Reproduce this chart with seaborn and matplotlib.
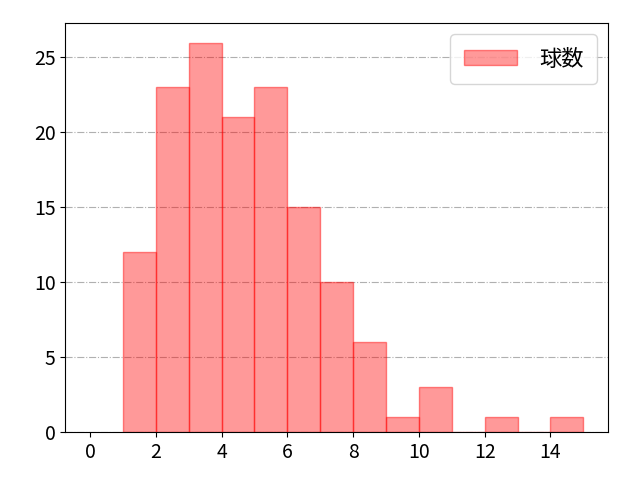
import numpy as np
import pandas as pd
import matplotlib
matplotlib.use("Agg")
import matplotlib.pyplot as plt
import seaborn as sns

# pitches per batter (bin left edge) and number of batters
pitch_bins = [1, 2, 3, 4, 5, 6, 7, 8, 9, 10, 11, 12, 13, 14]
counts = [12, 23, 26, 21, 23, 15, 10, 6, 1, 3, 0, 1, 0, 1]
label = "球数"

plt.rcParams['font.family'] = ['Noto Sans CJK JP', 'DejaVu Sans']
plt.rcParams['font.size'] = 14

df = pd.DataFrame({"pitches": pitch_bins, "n": counts})

fig, ax = plt.subplots(figsize=(6.4, 4.8), dpi=100)
sns.histplot(data=df, x="pitches", weights="n", bins=list(range(1, 16)), ax=ax,
             color="red", alpha=0.4, linewidth=1, label=label)
for p in ax.patches:
    p.set_edgecolor((1, 0, 0, 0.45))
ax.set_xlim(-0.75, 15.75)
ax.set_xticks(range(0, 16, 2))
ax.set_xlabel("")
ax.set_ylabel("")
ax.grid(axis="y", linestyle="-.", color="#b0b0b0", linewidth=0.8)
ax.set_axisbelow(True)
leg = ax.legend(loc="upper right", fontsize=16, handlelength=2.4,
                handletextpad=1.0, borderpad=0.6)
leg.legend_handles[0].set_edgecolor((1, 0, 0, 0.45))
fig.subplots_adjust(left=0.102, right=0.95, top=0.952, bottom=0.1)
fig.savefig("out.png", dpi=100)
